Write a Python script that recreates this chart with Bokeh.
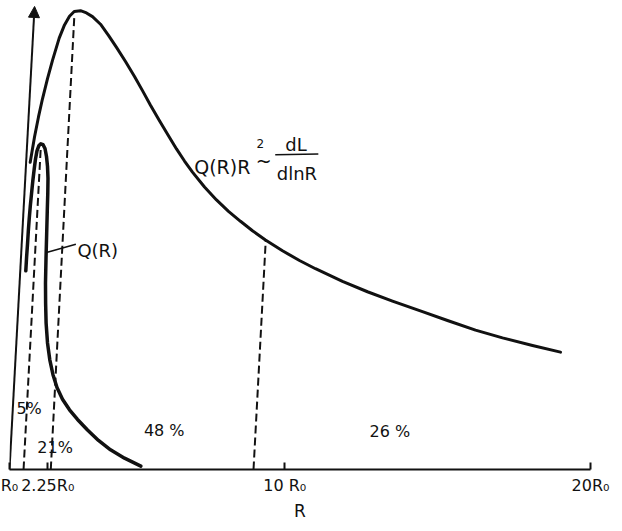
from bokeh.plotting import figure
from bokeh.models import Range1d, FixedTicker, Arrow, NormalHead, ColumnDataSource
from bokeh.embed import file_html
from bokeh.resources import INLINE
from bokeh.core.properties import value

# ---- values
# R in units of R0; heights in relative units (peak of Q(R)R^2 = 100)
big_r = [1.677, 1.818, 1.948, 2.079, 2.243, 2.406, 2.625, 2.799, 2.962, 3.116, 3.322, 3.518,
         3.714, 3.976, 4.237, 4.499, 4.793, 5.088, 5.349, 5.611, 5.905, 6.199, 6.461, 6.723,
         6.984, 7.377, 7.769, 8.162, 8.554, 8.946, 9.371, 9.927, 10.483, 11.006, 11.889,
         12.707, 13.524, 14.505, 15.323, 16.239, 17.122, 18.103, 19.019]
big_v = [67.09, 72.58, 76.98, 80.94, 85.35, 89.32, 94.19, 97.07, 98.97, 100.0, 100.17, 99.69,
         98.88, 97.22, 94.79, 92.15, 89.08, 85.80, 82.72, 79.53, 76.14, 72.85, 69.99, 67.35,
         64.93, 61.67, 58.85, 56.36, 54.19, 52.14, 50.09, 47.75, 45.64, 43.84, 41.06,
         38.81, 36.78, 34.47, 32.54, 30.43, 28.74, 27.08, 25.63]

q_r = [1.533, 1.559, 1.589, 1.615, 1.644, 1.680, 1.719, 1.762, 1.808, 1.850, 1.899, 1.958,
       2.024, 2.095, 2.161, 2.210, 2.243, 2.259, 2.252, 2.236, 2.216, 2.194, 2.177, 2.181,
       2.197, 2.243, 2.318, 2.422, 2.553, 2.733, 2.962, 3.224, 3.551, 3.910, 4.303, 4.761, 5.294]
q_v = [43.37, 46.36, 49.20, 52.04, 54.67, 57.51, 60.14, 62.98, 65.61, 67.80, 69.56, 70.67,
       71.12, 70.93, 70.08, 68.35, 66.18, 63.57, 60.30, 56.59, 51.57, 46.12, 40.67, 36.31,
       31.96, 27.62, 23.94, 20.70, 17.91, 15.35, 13.03, 10.93, 8.63, 6.35, 4.29, 2.47, 0.74]

# dashed marker lines (bottom on the axis, top on a curve)
dash_q_r, dash_q_v = [1.46, 2.02], [0.0, 70.0]
dash_peak_r, dash_peak_v = [2.35, 3.12], [0.0, 99.0]
dash_9_r, dash_9_v = [8.98, 9.38], [0.0, 50.0]

# y axis arrow
yaxis_r, yaxis_v = [1.0, 1.82], [0.0, 101.1]

# x axis ticks
tick_values = [1, 2.25, 10, 20]
tick_labels = ["R\u2080", "2.25R\u2080", "10 R\u2080", "20R\u2080"]
x_title = "R"

# luminosity fractions
pct_text = ["5%", "21%", "48 %", "26 %"]
pct_r = [1.64, 2.49, 6.06, 13.44]
pct_v = [13.27, 4.81, 8.54, 8.21]

# Q(R) label with pointer
qlab_r, qlab_v = 3.22, 47.8
qptr_r, qptr_v = [2.21, 3.17], [47.4, 49.2]

# Q(R)R^2 ~ dL/dlnR label pieces
main_lab_r, main_lab_v = 7.04, 66.1
sup_r, sup_v = 9.08, 71.1
tilde_r, tilde_v = 9.31, 67.3
frac_bar_r, frac_bar_v = [9.69, 11.10], [68.7, 68.9]
num_r, num_v = 10.37, 71.0
den_r, den_v = 10.40, 64.6

FONT = "DejaVu Sans"
INK = "#111111"

p = figure(width=614, height=523, output_backend="svg", toolbar_location=None,
           x_range=Range1d(1, 20), y_range=Range1d(0, 102.4),
           min_border_left=9, min_border_right=24, min_border_top=0, min_border_bottom=53)
p.outline_line_color = None
p.xgrid.visible = False
p.ygrid.visible = False
p.yaxis.visible = False
p.background_fill_color = "white"

ax = p.xaxis[0]
ax.ticker = FixedTicker(ticks=tick_values)
ax.major_label_overrides = {k: v for k, v in zip(tick_values, tick_labels)}
ax.axis_line_width = 2
ax.axis_line_color = INK
ax.major_tick_in = 7
ax.major_tick_out = 0
ax.major_tick_line_width = 2
ax.major_tick_line_color = INK
ax.minor_tick_line_color = None
ax.major_label_text_font = FONT
ax.major_label_text_font_size = "16px"
ax.major_label_text_color = INK
ax.major_label_standoff = 6
ax.axis_label = x_title
ax.axis_label_text_font = FONT
ax.axis_label_text_font_size = "17px"
ax.axis_label_text_font_style = "normal"
ax.axis_label_text_color = INK
ax.axis_label_standoff = 3

# curves
p.line(big_r, big_v, line_width=3, line_color=INK, line_join="round", line_cap="round")
p.line(q_r, q_v, line_width=3.5, line_color=INK, line_join="round", line_cap="round")

# dashed lines
for xs, ys in [(dash_q_r, dash_q_v), (dash_peak_r, dash_peak_v), (dash_9_r, dash_9_v)]:
    p.line(xs, ys, line_width=2, line_color=INK, line_dash="8 4")

# y axis arrow
p.add_layout(Arrow(end=NormalHead(size=11, fill_color=INK, line_color=INK),
                   x_start=yaxis_r[0], y_start=yaxis_v[0], x_end=yaxis_r[1], y_end=yaxis_v[1],
                   line_width=2, line_color=INK))

# percentages
src = ColumnDataSource(dict(x=pct_r, y=pct_v, t=pct_text))
p.text(x="x", y="y", text="t", source=src, text_font=value(FONT), text_font_size="16px",
       text_align="center", text_baseline="alphabetic", text_color=INK)

# Q(R) label
p.line(qptr_r, qptr_v, line_width=1.5, line_color=INK)
p.text(x=[qlab_r], y=[qlab_v], text=["Q(R)"], text_font=value(FONT), text_font_size="18px",
       text_align="left", text_baseline="alphabetic", text_color=INK)

# Q(R)R^2 ~ dL/dlnR
p.text(x=[main_lab_r], y=[main_lab_v], text=["Q(R)R"], text_font=value(FONT), text_font_size="19px",
       text_align="left", text_baseline="alphabetic", text_color=INK)
p.text(x=[sup_r], y=[sup_v], text=["2"], text_font=value(FONT), text_font_size="12px",
       text_align="left", text_baseline="alphabetic", text_color=INK)
p.text(x=[tilde_r], y=[tilde_v], text=["~"], text_font=value(FONT), text_font_size="19px",
       text_align="center", text_baseline="alphabetic", text_color=INK)
p.line(frac_bar_r, frac_bar_v, line_width=1.5, line_color=INK)
p.text(x=[num_r], y=[num_v], text=["dL"], text_font=value(FONT), text_font_size="18px",
       text_align="center", text_baseline="alphabetic", text_color=INK)
p.text(x=[den_r], y=[den_v], text=["dlnR"], text_font=value(FONT), text_font_size="18px",
       text_align="center", text_baseline="alphabetic", text_color=INK)

open("out.html", "w").write(file_html(p, INLINE))
